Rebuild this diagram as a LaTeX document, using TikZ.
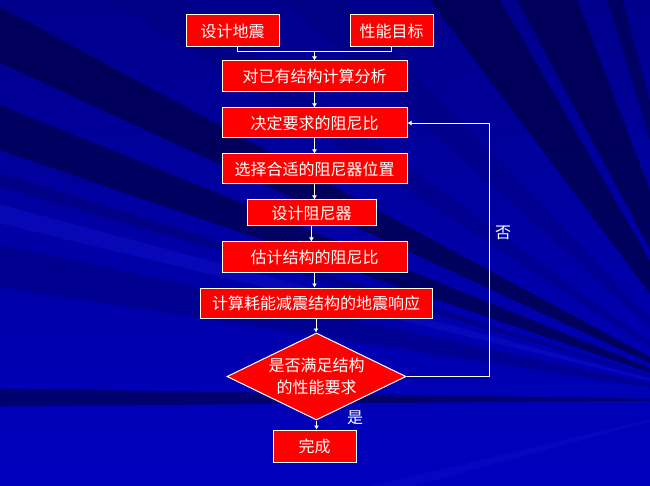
\documentclass[tikz,border=0pt]{standalone}
\usepackage{fontspec}
\setmainfont{Noto Sans CJK SC}
\usetikzlibrary{shapes.geometric,arrows.meta,calc}

\definecolor{bgtop}{RGB}{0,0,140}
\definecolor{bgbot}{RGB}{0,0,190}
\definecolor{raydark}{RGB}{0,0,82}
\definecolor{raymid}{RGB}{0,0,120}
\definecolor{raylight}{RGB}{15,15,200}
\definecolor{boxred}{RGB}{255,0,0}

\begin{document}
\begin{tikzpicture}[
	%	style def
    x=1pt, y=-1pt,
    every node/.style={text=white, font=\fontsize{16}{22}\selectfont},
    stepbox/.style={draw=white, fill=boxred, line width=1pt, inner sep=0pt},
    decision/.style={diamond, draw=white, fill=boxred, line width=1pt, inner sep=0pt,
        aspect=2.06, minimum width=179pt, minimum height=87pt, align=center},
    flow line/.style={draw=white, line width=0.9pt},
    flow arrow/.style={flow line, -{Latex[length=4pt,width=5pt]}}
    ]
	\useasboundingbox (0,0) rectangle (650,486);

	% background with rays
	\shade[top color=bgtop, bottom color=bgbot] (0,0) rectangle (650,486);
	\begin{scope}
	\clip (0,0) rectangle (650,486);
	\coordinate (F) at (730,400);
	\foreach \a/\b/\c/\o in {208.3/204.8/raydark/0.85, 202.0/198.9/raydark/0.8, 197.3/196.3/raymid/0.6,
	                      192.0/188.8/raymid/0.5, 180.9/179.5/raydark/0.7, 233.1/240.1/raydark/0.85,
	                      242.0/249.1/raydark/0.85, 252.9/255.0/raydark/0.7, 216/213/raymid/0.4,
	                      226/222/raymid/0.4, 195.0/193.6/raylight/0.5, 166.5/164.8/raylight/0.4}
	    \fill[\c, opacity=\o] (F) -- +(\a:1200) -- +(\b:1200) -- cycle;
	\end{scope}

	% steps
	\node[stepbox, minimum width=93pt, minimum height=32pt] (eq) at (232.5,31) {设计地震};
	\node[stepbox, minimum width=83pt, minimum height=32pt] (perf) at (391.5,31) {性能目标};
	\node[stepbox, minimum width=185pt, minimum height=31pt] (anal) at (314.5,76.5) {对已有结构计算分析};
	\node[stepbox, minimum width=185pt, minimum height=30pt] (ratio) at (314.5,123) {决定要求的阻尼比};
	\node[stepbox, minimum width=185pt, minimum height=30pt] (pos) at (314.5,169) {选择合适的阻尼器位置};
	\node[stepbox, minimum width=129pt, minimum height=26pt] (damper) at (311.5,213) {设计阻尼器};
	\node[stepbox, minimum width=185pt, minimum height=30pt] (est) at (314.5,257) {估计结构的阻尼比};
	\node[stepbox, minimum width=232pt, minimum height=30pt] (resp) at (316,303) {计算耗能减震结构的地震响应};
	\node[decision] (check) at (316.5,376.5) {是否满足结构\\的性能要求};
	\node[stepbox, minimum width=83pt, minimum height=32pt] (done) at (314.5,446) {完成};

	% merging the two inputs
	\coordinate (merge) at (314.5,51);
	\draw[flow line] ([xshift=4.5pt]eq.south) |- (perf.south |- merge) -- (perf.south);
	\draw[flow arrow] (merge) -- (merge |- anal.north);

	% main column
	\foreach \a/\b in {anal/ratio, ratio/pos, pos/damper, damper/est, est/resp, resp/check, check/done}
	    \draw[flow arrow] (\a.south) -- (\a.south |- \b.north);

	% loop back when not satisfied
	\coordinate (loop) at (489,0);
	\draw[flow arrow] (check.east) -- (check.east -| loop) |- (ratio.east);
	\node (no) at (503,233) {否};
	\node (yes) at (355,418) {是};
\end{tikzpicture}
\end{document}
